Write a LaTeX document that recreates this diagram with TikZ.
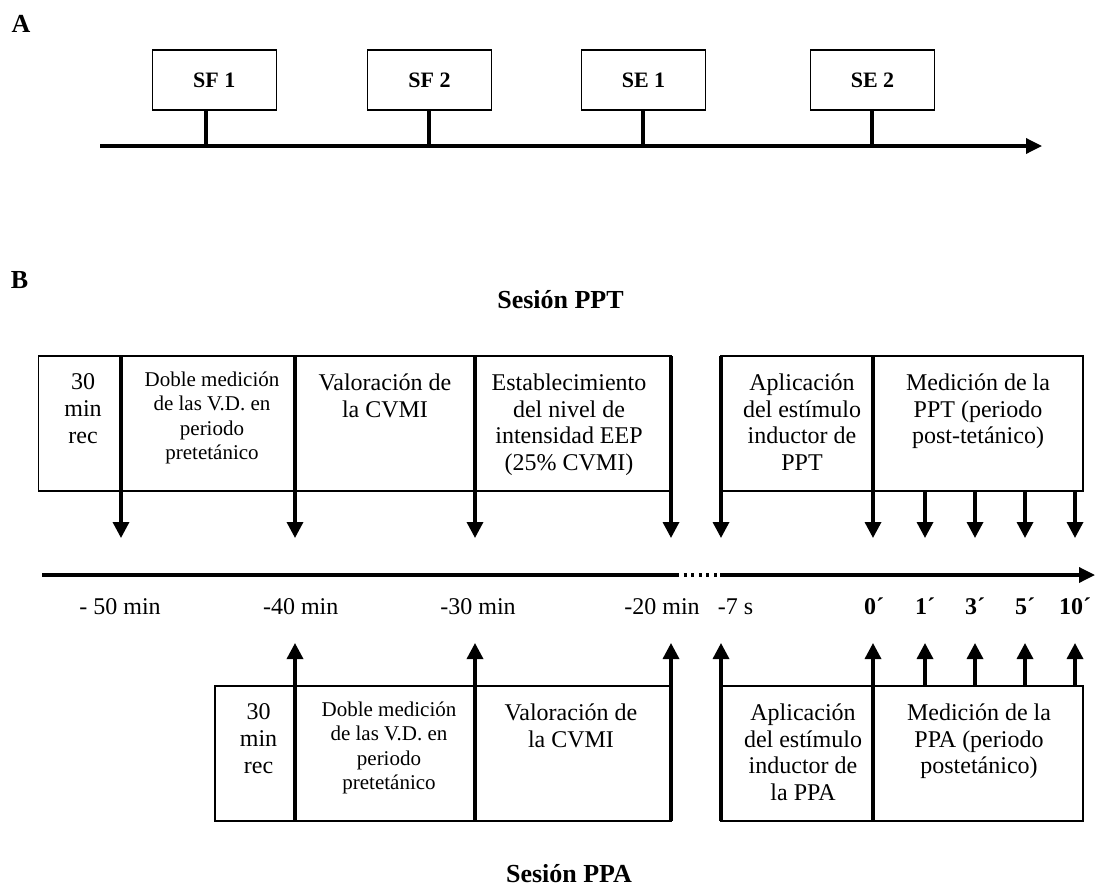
\documentclass[tikz,border=0pt]{standalone}
\usepackage{fontspec}
\setmainfont{Liberation Serif}
\usetikzlibrary{arrows.meta}
\begin{document}
\begin{tikzpicture}[x=1pt,y=-1pt,
  border/.style={line width=1.6pt},
  heavy/.style={line width=3.4pt},
  tiparrow/.style={line width=3.4pt,-{Triangle[width=16pt,length=16pt]}},
  axisarrow/.style={line width=3.4pt,-{Triangle[width=15pt,length=16pt]}},
  dotline/.style={line width=3.2pt,dash pattern=on 3pt off 4.6pt},
  cell/.style={anchor=north,align=center,inner sep=0pt,font=\fontsize{24}{26.8}\selectfont},
  smallcell/.style={anchor=north,align=center,inner sep=0pt,font=\fontsize{21}{24.3}\selectfont},
  tlabel/.style={anchor=base,inner sep=0pt,font=\fontsize{24}{28}\selectfont},
  blabel/.style={anchor=base,inner sep=0pt,font=\fontsize{24}{28}\selectfont\bfseries},
  title/.style={anchor=base,inner sep=0pt,font=\fontsize{26}{30}\selectfont\bfseries},
  sbox/.style={draw,line width=1.6pt,minimum width=124pt,minimum height=60pt,inner sep=0pt,font=\fontsize{22}{26}\selectfont\bfseries},
]
\useasboundingbox (0,0) rectangle (1100,889);

% ---------------- Panel A ----------------
\node[title] (A) at (21,32) {A};
\node[sbox] (sf1) at (214.3,80) {SF 1};
\node[sbox] (sf2) at (429.5,80) {SF 2};
\node[sbox] (se1) at (643.5,80) {SE 1};
\node[sbox] (se2) at (872.5,80) {SE 2};
\coordinate (axAs) at (100,146);
\coordinate (axAe) at (1042,146);
\coordinate (st1) at (206,146);
\coordinate (st2) at (429,146);
\coordinate (st3) at (643,146);
\coordinate (st4) at (872,146);
\draw[axisarrow] (axAs) -- (axAe);
\draw[heavy] (sf1.south -| st1) -- (st1);
\draw[heavy] (sf2.south -| st2) -- (st2);
\draw[heavy] (se1.south -| st3) -- (st3);
\draw[heavy] (se2.south -| st4) -- (st4);

% ---------------- Panel B ----------------
\node[title] (B) at (19.5,288.5) {B};
\node[title] (ppt) at (560.5,308) {Sesión PPT};
\node[title] (ppa) at (569,882) {Sesión PPA};

% upper boxes
\draw[border] (38.6,356) rectangle (671,491.2);
\draw[border] (721,356) rectangle (1083,491.2);
\foreach \n/\x in {m50/121,m40/295,m30/475,m20/671,m7/721,z0/873}{
  \coordinate (ut\n) at (\x,356);
  \coordinate (ua\n) at (\x,538);
  \draw[tiparrow] (ut\n) -- (ua\n);
}
\foreach \n/\x in {p1/925,p3/975,p5/1025,p10/1075}{
  \coordinate (ut\n) at (\x,491.2);
  \coordinate (ua\n) at (\x,538);
  \draw[tiparrow] (ut\n) -- (ua\n);
}
\node[cell] (u1) at (83,373.5) {30\\min\\rec};
\node[smallcell] (u2) at (212,371.7) {Doble medición\\de las V.D. en\\periodo\\pretetánico};
\node[cell] (u3) at (385,373.5) {Valoración de\\la CVMI};
\node[cell] (u4) at (569,373.5) {Establecimiento\\del nivel de\\intensidad EEP\\(25\% CVMI)};
\node[cell] (u5) at (802,373.5) {Aplicación\\del estímulo\\inductor de\\PPT};
\node[cell] (u6) at (978,373.5) {Medición de la\\PPT (periodo\\post-tetánico)};

% time axis
\coordinate (axBs) at (42,575);
\coordinate (axBd1) at (676,575);
\coordinate (axBd2) at (720,575);
\coordinate (axBe) at (1095,575);
\draw[heavy] (axBs) -- (axBd1);
\draw[dotline] (axBd1) -- (axBd2);
\draw[axisarrow] (axBd2) -- (axBe);

\node[tlabel] (l50) at (120,614) {- 50 min};
\node[tlabel] (l40) at (300.7,614) {-40 min};
\node[tlabel] (l30) at (478,614) {-30 min};
\node[tlabel] (l20) at (662,614) {-20 min};
\node[tlabel] (l7) at (735.5,614) {-7 s};
\node[blabel] (l0) at (874,614) {0´};
\node[blabel] (l1) at (925,614) {1´};
\node[blabel] (l3) at (975,614) {3´};
\node[blabel] (l5) at (1025,614) {5´};
\node[blabel] (l10) at (1075,614) {10´};

% lower boxes
\draw[border] (215,686) rectangle (671,821);
\draw[border] (721,686) rectangle (1083,821);
\foreach \n/\x in {m40/295,m30/475,m20/671,m7/721,z0/873}{
  \coordinate (lb\n) at (\x,821);
  \coordinate (la\n) at (\x,643);
  \draw[tiparrow] (lb\n) -- (la\n);
}
\foreach \n/\x in {p1/925,p3/975,p5/1025,p10/1075}{
  \coordinate (lb\n) at (\x,686);
  \coordinate (la\n) at (\x,643);
  \draw[tiparrow] (lb\n) -- (la\n);
}
\node[cell] (d1) at (258.5,703.5) {30\\min\\rec};
\node[smallcell] (d2) at (389,701.7) {Doble medición\\de las V.D. en\\periodo\\pretetánico};
\node[cell] (d3) at (571,703.5) {Valoración de\\la CVMI};
\node[cell] (d5) at (803,703.5) {Aplicación\\del estímulo\\inductor de\\la PPA};
\node[cell] (d6) at (979,703.5) {Medición de la\\PPA (periodo\\postetánico)};
\end{tikzpicture}
\end{document}
